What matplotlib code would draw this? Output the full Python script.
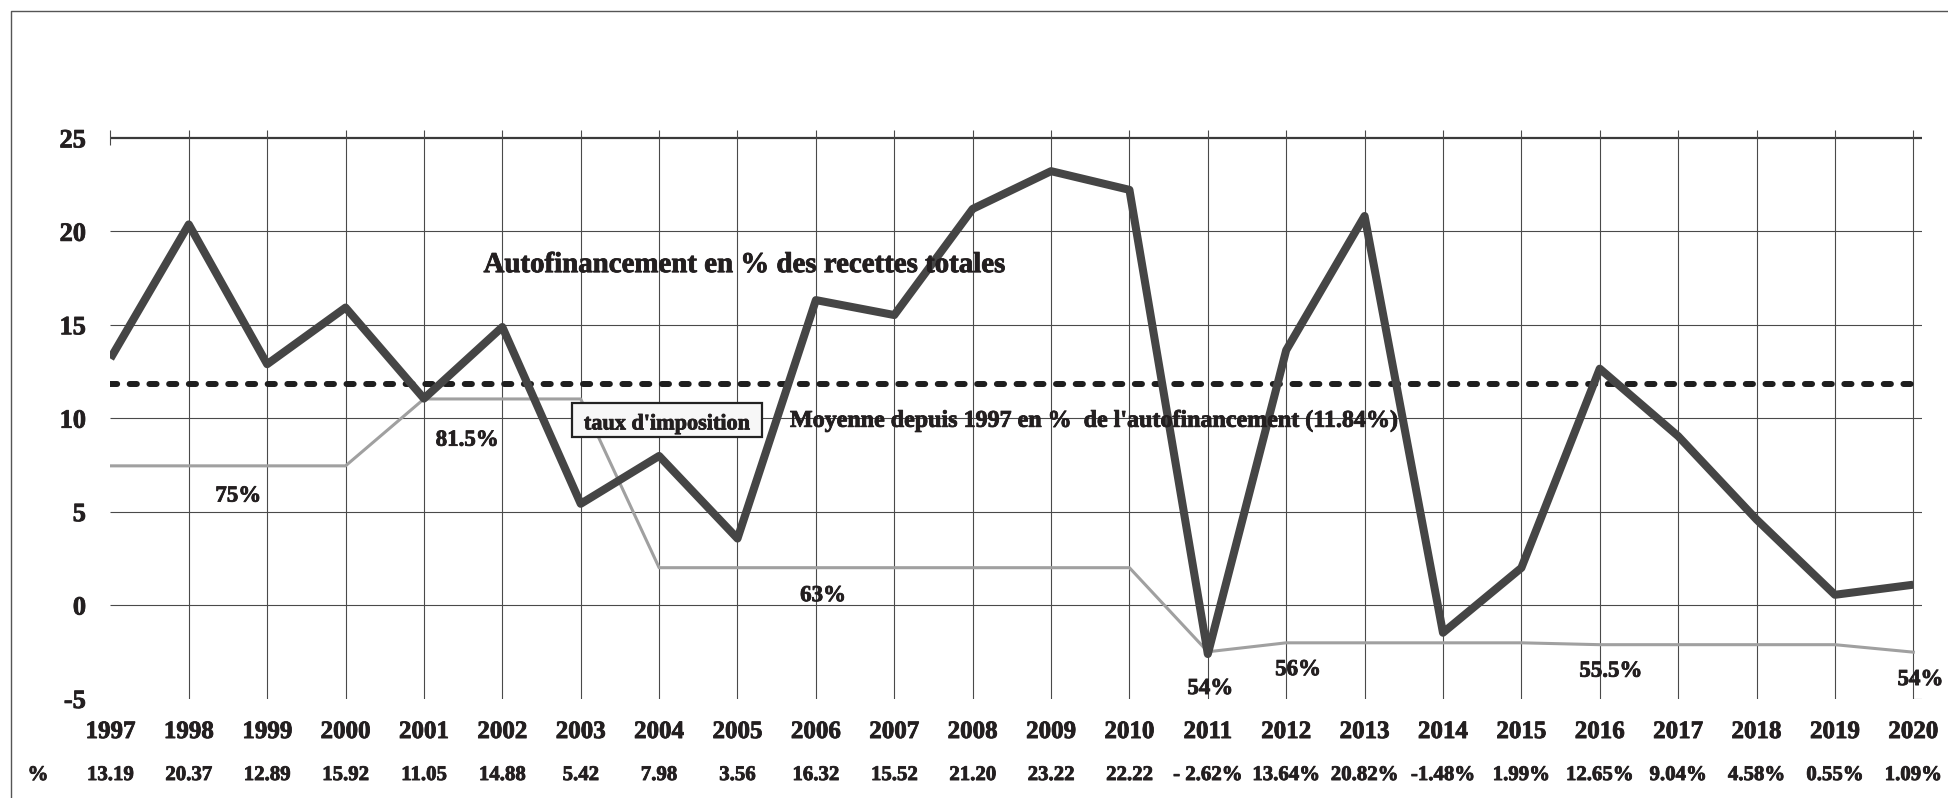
import matplotlib
matplotlib.use("Agg")
import matplotlib.pyplot as plt
from matplotlib.lines import Line2D
from matplotlib.patches import Rectangle
import matplotlib.patheffects as pe

plt.rcParams['font.family'] = ['Liberation Serif', 'DejaVu Serif']
plt.rcParams['font.weight'] = 'bold'

# ---------------- data ----------------
years = list(range(1997, 2021))
autofin = [13.19, 20.37, 12.89, 15.92, 11.05, 14.88, 5.42, 7.98, 3.56, 16.32,
           15.52, 21.20, 23.22, 22.22, -2.62, 13.64, 20.82, -1.48, 1.99, 12.65,
           9.04, 4.58, 0.55, 1.09]
value_labels = ["13.19", "20.37", "12.89", "15.92", "11.05", "14.88", "5.42", "7.98",
                "3.56", "16.32", "15.52", "21.20", "23.22", "22.22", "- 2.62%",
                "13.64%", "20.82%", "-1.48%", "1.99%", "12.65%", "9.04%", "4.58%",
                "0.55%", "1.09%"]
moyenne = 11.84
# tax-rate curve as drawn on the chart scale
tax_curve = [7.45, 7.45, 7.45, 7.45, 11.03, 11.03, 11.03, 2.0, 2.0, 2.0, 2.0, 2.0,
             2.0, 2.0, -2.5, -2.02, -2.02, -2.02, -2.02, -2.12, -2.12, -2.12,
             -2.12, -2.52]
tax_labels = ["75%", "81.5%", "63%", "54%", "56%", "55.5%", "54%"]
tax_label_x = [1998.63, 2001.55, 2006.09, 2011.03, 2012.15, 2016.14, 2020.09]
tax_label_y = [5.54, 8.53, 0.21, -4.76, -3.75, -3.83, -4.28]
yticks = [-5, 0, 5, 10, 15, 20, 25]

# ---------------- figure ----------------
W, H = 1948, 798
fig = plt.figure(figsize=(W / 100, H / 100), dpi=100)
x0, x1 = 110.4, 1921.7
ybot, ytop = 698.5, 130.3
ax = fig.add_axes([x0 / W, (H - ybot) / H, (x1 - x0) / W, (ybot - ytop) / H])
xpx = 78.39   # px per year
ypx = 18.69   # px per unit
ax.set_xlim(1997, 2020 + 8.4 / xpx)
ax.set_ylim(-5, 25 + 7.6 / ypx)
ax.axis('off')

txt_col = '#231f20'
grid_col = '#4a4a4a'
heavy = [pe.withStroke(linewidth=0.6, foreground=txt_col)]

# outer frame (left and top)
fig.add_artist(Line2D([11 / W, 11 / W, 1.0], [0.0, 1 - 11 / H, 1 - 11 / H],
                      transform=fig.transFigure, color='#555555', lw=1.0))

# grid
xmax = 2020 + 8.4 / xpx
for v in yticks[1:]:
    ax.hlines(v, 1997, xmax, color=grid_col if v != 25 else '#3a3a3a',
              lw=0.8 if v != 25 else 1.6, zorder=1)
ytopd = 25 + 7.6 / ypx
for yr in years[1:]:
    ax.vlines(yr, -5, ytopd, color=grid_col, lw=0.8, zorder=1)
# small ticks at corners
ax.vlines(1997, 25 - 7.5 / ypx, 25 + 7.5 / ypx, color=grid_col, lw=0.8, zorder=1, clip_on=False)
ax.hlines(-5, 2020, xmax, color=grid_col, lw=0.8, zorder=1)

# tax line
ax.plot(years, tax_curve, color='#a0a0a0', lw=2.2, zorder=2)
# mean dashed
ax.axhline(moyenne, color='#1e1e1e', lw=4.3, dashes=(1.2, 2.1),
           dash_capstyle='round', zorder=3)
# main line
ax.plot(years, autofin, color='#454545', lw=5.8, solid_joinstyle='round',
        solid_capstyle='butt', zorder=4)

# box "taux d'imposition"
bx0 = 1997 + (572.3 - x0) / xpx
bx1 = 1997 + (762.3 - x0) / xpx
by0 = (605 - 437.3) / ypx
by1 = (605 - 403.3) / ypx
ax.add_patch(Rectangle((bx0, by0), bx1 - bx0, by1 - by0, facecolor='#f7f7f7',
                       edgecolor='#222222', lw=1.6, zorder=5))
ax.text((bx0 + bx1) / 2, (605 - 429.3) / ypx, "taux d'imposition", ha='center',
        va='baseline', fontsize=16, color=txt_col, zorder=6, path_effects=heavy)

ax.text(1997 + (790 - x0) / xpx, (605 - 426.7) / ypx,
        "Moyenne depuis 1997 en %  de l'autofinancement (11.84%)", ha='left',
        va='baseline', fontsize=17.3, color=txt_col, zorder=6, path_effects=heavy)

ax.text(1997 + (745 - x0) / xpx, (605 - 272) / ypx,
        "Autofinancement en % des recettes totales", ha='center', va='baseline',
        fontsize=20.8, color=txt_col, zorder=6, path_effects=heavy)

for s, xx, yy in zip(tax_labels, tax_label_x, tax_label_y):
    ax.text(xx, yy, s, ha='center', va='baseline', fontsize=16.5, color=txt_col,
            zorder=6, clip_on=False, path_effects=heavy)

# y tick labels
for v in yticks:
    ax.text(1997 - 24.4 / xpx, v - 9.5 / ypx, str(v), ha='right', va='baseline',
            fontsize=19, color=txt_col, clip_on=False, path_effects=heavy)

# x labels and value row
yb_year = (605 - 738) / ypx
yb_val = (605 - 780) / ypx
for yr, lab in zip(years, value_labels):
    ax.text(yr, yb_year, str(yr), ha='center', va='baseline', fontsize=18,
            color=txt_col, clip_on=False, path_effects=heavy)
    ax.text(yr, yb_val, lab, ha='center', va='baseline', fontsize=15,
            color=txt_col, clip_on=False, path_effects=heavy)
ax.text(1997 + (38 - x0) / xpx, yb_val, "%", ha='center', va='baseline',
        fontsize=15, color=txt_col, clip_on=False, path_effects=heavy)

fig.savefig('out.png', dpi=100)
